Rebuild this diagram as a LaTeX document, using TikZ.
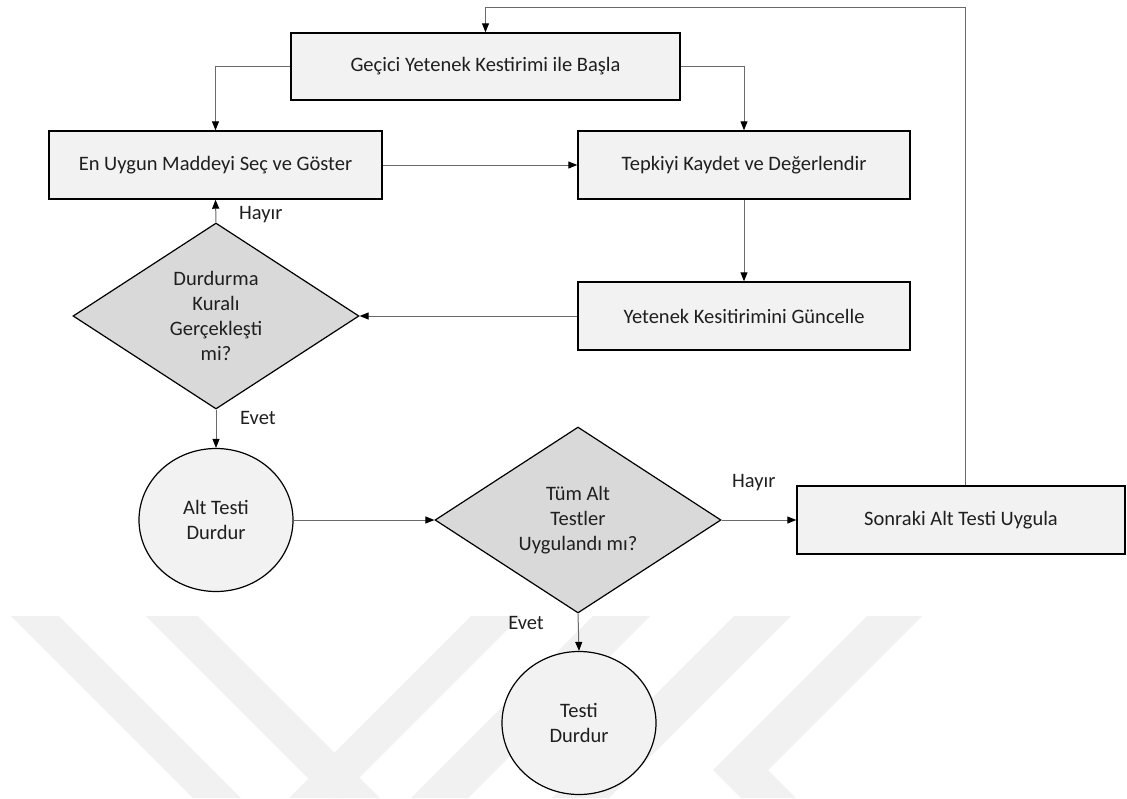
\documentclass[tikz,border=0pt]{standalone}
\usepackage{fontspec}
\setmainfont{Carlito}
\usetikzlibrary{shapes.geometric,arrows.meta}
\definecolor{boxfill}{HTML}{F2F2F2}
\definecolor{decfill}{HTML}{D9D9D9}
\definecolor{linkgray}{HTML}{6A6A6A}
\definecolor{wmgray}{HTML}{F1F1F1}
\begin{document}
\begin{tikzpicture}[x=1pt,y=-1pt,
  every node/.style={font=\fontsize{20.5}{25}\selectfont, text=black!88},
  procbox/.style={rectangle, draw=black, line width=1.4pt, fill=boxfill,
    inner sep=0pt, minimum width=#1, minimum height=68},
  decision/.style={diamond, shape aspect=1.54, draw=black, line width=1.2pt,
    fill=decfill, inner sep=0pt, minimum width=286, minimum height=186, align=center},
  terminal/.style={ellipse, draw=black, line width=1.2pt, fill=boxfill,
    inner sep=0pt, minimum width=154, minimum height=143, align=center},
  conn/.style={draw=linkgray, line width=1pt,
    -{Triangle[length=9pt,width=7pt,fill=black,color=black]}},
  lbl/.style={inner sep=0pt}
]
\useasboundingbox (0,0) rectangle (1127,798);

% faint background emblem
\begin{scope}
\clip (0,0) rectangle (1127,798);
\fill[wmgray] (11,616) -- (59,616) -- (241,798) -- (193,798) -- cycle;
\fill[wmgray] (146,616) -- (198,616) -- (380,798) -- (328,798) -- cycle;
\fill[wmgray] (471,616) -- (521,616) -- (339,798) -- (289,798) -- cycle;
\fill[wmgray] (593,616) -- (650,616) -- (468,798) -- (411,798) -- cycle;
\fill[wmgray] (734,616) -- (791,616) -- (609,798) -- (552,798) -- cycle;
\fill[wmgray] (867,616) -- (922,616) -- (768,770) -- (796,798) -- (741,798) -- (713,770) -- cycle;
\end{scope}

% process boxes
\node[procbox=389, minimum height=67] (start) at (485.5,66.5) {Geçici Yetenek Kestirimi ile Başla};
\node[procbox=333] (choose) at (215.5,165) {En Uygun Maddeyi Seç ve Göster};
\node[procbox=332] (record) at (744,165) {Tepkiyi Kaydet ve Değerlendir};
\node[procbox=332] (update) at (744,316) {Yetenek Kesitirimini Güncelle};
\node[procbox=328] (next) at (961,520) {Sonraki Alt Testi Uygula};

% decisions
\node[decision] (stoprule) at (216,316) {Durdurma\\Kuralı\\Gerçekleşti\\mi?};
\node[decision] (alltests) at (578,520) {Tüm Alt\\Testler\\Uygulandı mı?};

% terminals
\node[terminal] (subtest) at (216,520) {Alt Testi\\Durdur};
\node[terminal] (endtest) at (579,723) {Testi\\Durdur};

% connectors
\coordinate (loop) at (965,7);
\draw[conn] (start.west) -| (choose.north);
\draw[conn] (start.east) -| (record.north);
\draw[conn] (choose.east) -- (record.west);
\draw[conn] (record.south) -- (update.north);
\draw[conn] (update.west) -- (stoprule.east);
\draw[conn] (stoprule.north) -- (choose.south);
\draw[conn] (stoprule.south) -- (subtest.north);
\draw[conn] (subtest.east) -- (alltests.west);
\draw[conn] (alltests.east) -- (next.west);
\draw[conn] (alltests.south) -- (endtest.north);
\draw[conn] ([xshift=4pt]next.north) -- (loop) -| (start.north);

% branch labels
\node[lbl, anchor=west] (no1) at (239,215) {Hayır};
\node[lbl, anchor=west] (yes1) at (240,418) {Evet};
\node[lbl, anchor=west] (no2) at (732,483) {Hayır};
\node[lbl, anchor=east] (yes2) at (544,623) {Evet};
\end{tikzpicture}
\end{document}
